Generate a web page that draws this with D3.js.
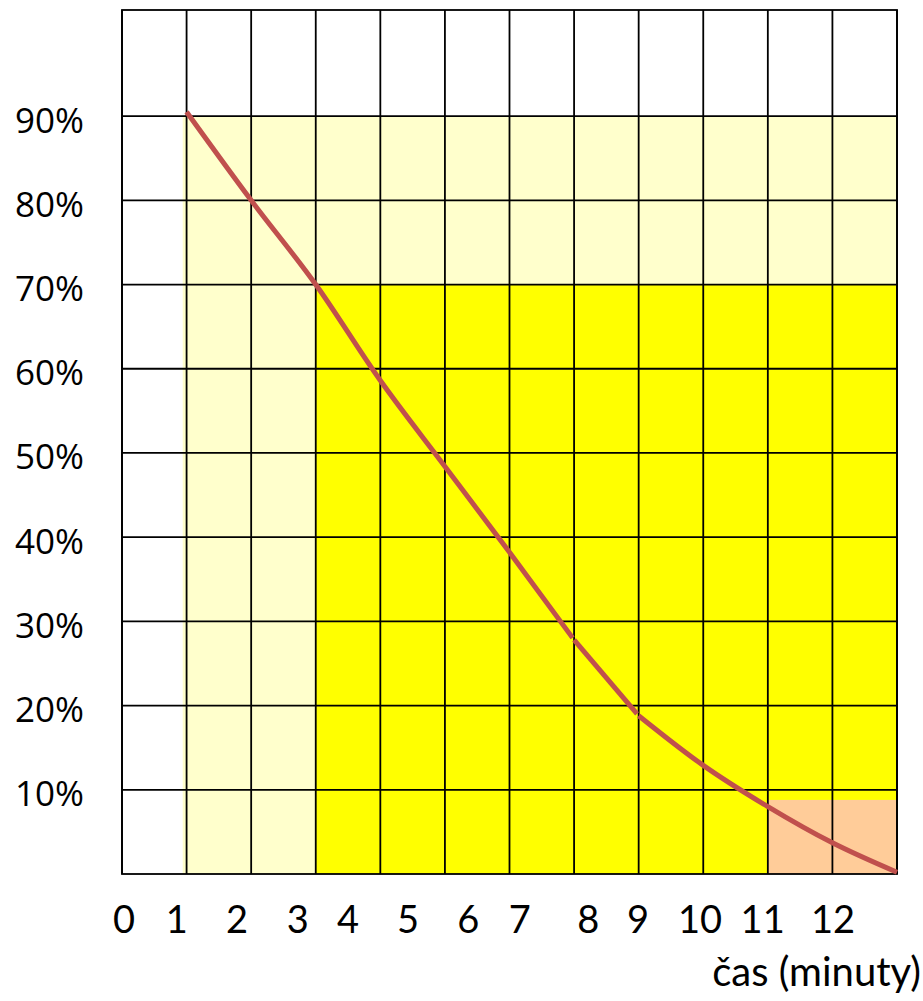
<!DOCTYPE html>
<html>
<head>
<meta charset="utf-8">
<script src="https://cdn.jsdelivr.net/npm/d3@7/dist/d3.min.js"></script>
<style>
  html, body { margin: 0; padding: 0; background: #fff; }
  svg { display: block; }
</style>
</head>
<body>
<svg id="chart" width="923" height="1001"></svg>
<script>
// ---- data ----
const gridTimes = [0,1,2,3,4,5,6,7,8,9,10,11,12];
const gridShares = [10,20,30,40,50,60,70,80,90];
const yTickLabels = ["10%","20%","30%","40%","50%","60%","70%","80%","90%"];
const xTickLabels = ["0","1","2","3","4","5","6","7","8","9","10","11","12"];
const xTickAt = [0.03,0.85,1.78,2.72,3.5,4.43,5.36,6.16,7.22,7.99,8.95,9.92,11.01];
const curveTimes = [1,2,3,4,5,6,7,8,9,10,11,12];
const curveShares = [90.5,80,70,58.6,48.4,38.2,27.8,18.8,12.9,8.0,3.7,0.2];
const segmentBreaks = [7,8];
const zoneStart = [0.94,3,10];
const zoneEnd = [12,12,12];
const zoneTop = [90,70,8.8];
const zoneColors = ["#FFFFCC","#FFFF00","#FFCC99"];
const xTitle = "čas (minuty)";
const shareMax = 102.6;

// ---- layout ----
const svg = d3.select("#chart");
const x = d3.scaleLinear().domain([0,12]).range([122,897]);
const y = d3.scaleLinear().domain([0,shareMax]).range([874,10]);

// zones
svg.append("g").selectAll("rect")
  .data(zoneStart.map((s,i)=>({s, e:zoneEnd[i], t:zoneTop[i], c:zoneColors[i]})))
  .join("rect")
  .attr("x", d=>x(d.s))
  .attr("width", d=>x(d.e)-x(d.s))
  .attr("y", d=>y(d.t))
  .attr("height", d=>y(0)-y(d.t))
  .attr("fill", d=>d.c);

// grid
const grid = svg.append("g").attr("stroke","#000").attr("stroke-width",1.8).attr("fill","none");
grid.selectAll("line.v").data(gridTimes).join("line").attr("class","v")
  .attr("x1",d=>x(d)).attr("x2",d=>x(d))
  .attr("y1",y(0)).attr("y2",y(shareMax));
grid.selectAll("line.h").data(gridShares).join("line").attr("class","h")
  .attr("x1",x(0)).attr("x2",x(12))
  .attr("y1",d=>y(d)).attr("y2",d=>y(d));
grid.append("rect")
  .attr("x",x(0)).attr("y",y(shareMax))
  .attr("width",x(12)-x(0)).attr("height",y(0)-y(shareMax));

// curve segments
const pts = curveTimes.map((t,i)=>({t, v:curveShares[i]}));
const bounds = [curveTimes[0], ...segmentBreaks, curveTimes[curveTimes.length-1]];
const line = d3.line().x(d=>x(d.t)).y(d=>y(d.v)).curve(d3.curveMonotoneX);
for (let k=0; k<bounds.length-1; k++) {
  const seg = pts.filter(p=>p.t>=bounds[k] && p.t<=bounds[k+1]);
  const path = svg.append("path")
    .attr("d", line(seg))
    .attr("fill","none")
    .attr("stroke","#C0504D")
    .attr("stroke-width",5)
    .attr("stroke-linecap","butt");
  if (k < bounds.length-2) {
    const L = path.node().getTotalLength();
    path.attr("stroke-dasharray", `${L-2.5},${L+20}`);
  }
}

// y labels
svg.append("g").selectAll("text").data(gridShares).join("text")
  .attr("x",84).attr("y",d=>y(d)+16.5)
  .attr("text-anchor","end")
  .attr("font-family","'Open Sans', sans-serif")
  .attr("font-size",35)
  .attr("fill","#000")
  .text((d,i)=>yTickLabels[i]);

// x labels
svg.append("g").selectAll("text").data(xTickAt).join("text")
  .attr("x",d=>x(d)).attr("y",933)
  .attr("text-anchor","middle")
  .attr("font-family","Lato, sans-serif")
  .attr("font-size",38)
  .attr("fill","#000")
  .text((d,i)=>xTickLabels[i]);

// axis title
svg.append("text")
  .attr("x",921).attr("y",986)
  .attr("text-anchor","end")
  .attr("font-family","Lato, sans-serif")
  .attr("font-size",40)
  .attr("fill","#000")
  .text(xTitle);
</script>
</body>
</html>
